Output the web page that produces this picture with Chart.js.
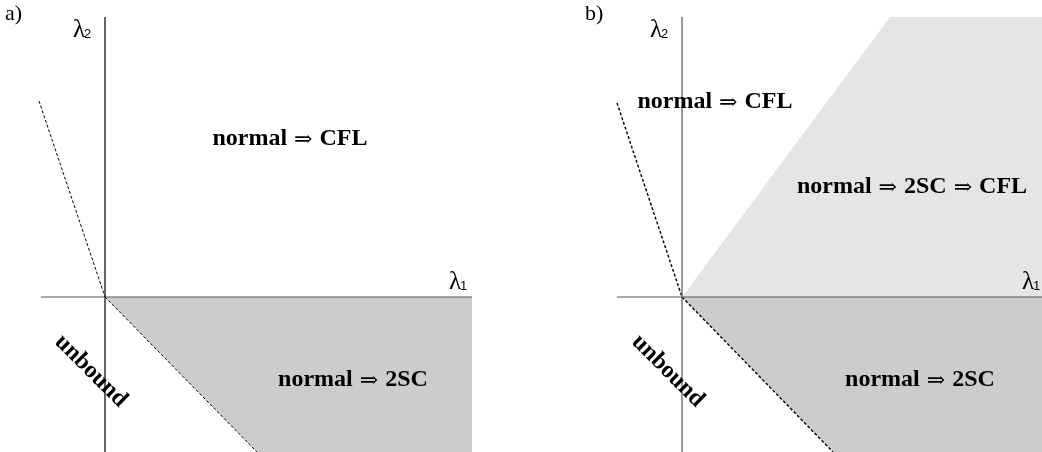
<!DOCTYPE html>
<html>
<head>
<meta charset="utf-8">
<script src="https://cdn.jsdelivr.net/npm/chart.js@4.4.1/dist/chart.umd.min.js"></script>
<style>
  html, body { margin: 0; padding: 0; background: #fff; }
  .wrap { display: flex; width: 1042px; height: 452px; }
  canvas { display: block; }
</style>
</head>
<body>
<div class="wrap">
  <canvas id="panel-a" width="521" height="452"></canvas>
  <canvas id="panel-b" width="521" height="452"></canvas>
</div>
<script>
/* ===== Data (lambda-plane units, origin = axis crossing) ===== */
// panel a
const aAxis1 = [[-0.64, 0], [3.67, 0]];
const aAxis2 = [[0, 2.80], [0, -1.60]];
const aBoundUpper = [[-0.66, 1.96], [0, 0]];
const aBoundLower = [[0, 0], [1.52, -1.55]];
const aRegion2SC = [[0, 0], [3.67, 0], [3.67, -1.60], [1.57, -1.60]];
// panel b
const bAxis1 = [[-0.65, 0], [3.60, 0]];
const bAxis2 = [[0, 2.80], [0, -1.60]];
const bBoundUpper = [[-0.65, 1.94], [0, 0]];
const bBoundLower = [[0, 0], [1.51, -1.55]];
const bRegion2SCCFL = [[0, 0], [2.08, 2.80], [3.60, 2.80], [3.60, 0]];
const bRegion2SC = [[0, 0], [3.60, 0], [3.60, -1.60], [1.56, -1.60]];

// region labels (arrow-separated stages)
const aLabels = [
  { parts: ['normal', 'CFL'], at: [1.85, 1.58] },
  { parts: ['normal', '2SC'], at: [2.48, -0.83] }
];
const bLabels = [
  { parts: ['normal', 'CFL'], at: [0.33, 1.95] },
  { parts: ['normal', '2SC', 'CFL'], at: [2.30, 1.10] },
  { parts: ['normal', '2SC'], at: [2.38, -0.83] }
];

const pts = arr => arr.map(p => ({ x: p[0], y: p[1] }));

function lineSet(arr, dashed, color, width) {
  return {
    data: pts(arr), showLine: true, pointRadius: 0, fill: false,
    borderColor: color, borderWidth: width || 1, borderDash: dashed ? [3, 2] : [],
    order: 0
  };
}
function areaSet(arr, color) {
  return {
    data: pts(arr), showLine: true, pointRadius: 0, borderWidth: 0,
    borderColor: color, backgroundColor: color, fill: 'shape', order: 5
  };
}

const BOLD = "bold 24px 'Liberation Serif', 'DejaVu Serif', serif";
const ARROW = "22px 'DejaVu Serif', serif";
const ARROW_SEP = ' \u21D2 ';

/* ===== Text overlay ===== */
const textPlugin = {
  id: 'diagramText',
  afterDraw(chart) {
    const o = chart.options.plugins.diagramText;
    const ctx = chart.ctx, sx = chart.scales.x, sy = chart.scales.y;
    const X = v => sx.getPixelForValue(v), Y = v => sy.getPixelForValue(v);
    ctx.save();
    ctx.fillStyle = '#000';
    ctx.textBaseline = 'middle';
    ctx.textAlign = 'left';

    o.labels.forEach(l => {
      // measure: bold words, lighter arrows
      const segs = [];
      l.parts.forEach((p, i) => {
        if (i > 0) segs.push({ t: ARROW_SEP, f: ARROW });
        segs.push({ t: p, f: BOLD });
      });
      let total = 0;
      segs.forEach(s => { ctx.font = s.f; s.w = ctx.measureText(s.t).width; total += s.w; });
      let x = X(l.at[0]) - total / 2;
      const y = Y(l.at[1]);
      segs.forEach(s => { ctx.font = s.f; ctx.fillText(s.t, x, s.f === ARROW ? y + 1 : y); x += s.w; });
    });

    // "unbound" along the lower-left diagonal
    ctx.save();
    ctx.translate(X(o.unbound[0]), Y(o.unbound[1]));
    ctx.rotate(Math.PI / 4);
    ctx.textAlign = 'center';
    ctx.font = BOLD;
    ctx.fillText('unbound', 0, 0);
    ctx.restore();

    // axis names
    function lambda(sub, x, y) {
      ctx.textAlign = 'left';
      ctx.font = "25px 'Liberation Serif', serif";
      ctx.fillText('\u03BB', x, y);
      const w = ctx.measureText('\u03BB').width;
      ctx.font = "13px 'Liberation Sans', sans-serif";
      ctx.fillText(sub, x + w - 1, y + 4);
    }
    lambda('2', X(0) - 32, Y(2.67));
    lambda('1', X(o.l1x), Y(0.15));

    // panel tag
    ctx.textAlign = 'left';
    ctx.font = "22px 'Liberation Serif', serif";
    ctx.fillText(o.tag, o.tagX, 14);
    ctx.restore();
  }
};

function makeChart(id, datasets, xmin, opts) {
  return new Chart(document.getElementById(id), {
    type: 'scatter',
    data: { datasets },
    plugins: [textPlugin],
    options: {
      responsive: false,
      animation: false,
      events: [],
      layout: { padding: 0 },
      plugins: {
        legend: { display: false },
        tooltip: { enabled: false },
        diagramText: opts
      },
      scales: {
        x: { type: 'linear', display: false, min: xmin, max: xmin + 5.21 },
        y: { type: 'linear', display: false, min: -1.55, max: 2.97 }
      }
    }
  });
}

makeChart('panel-a', [
  lineSet(aAxis2, false, '#000', 1.2),
  lineSet(aAxis1, false, '#555', 1.2),
  lineSet(aBoundUpper, true, '#000'),
  lineSet(aBoundLower, true, '#000'),
  areaSet(aRegion2SC, '#cccccc')
], -1.05, { labels: aLabels, unbound: [-0.14, -0.74], l1x: 3.44, tag: 'a)', tagX: 5 });

makeChart('panel-b', [
  lineSet(bAxis2, false, '#555', 1.2),
  lineSet(bAxis1, false, '#555', 1.2),
  lineSet(bBoundUpper, true, '#000', 1.4),
  lineSet(bBoundLower, true, '#000', 1.4),
  areaSet(bRegion2SCCFL, '#e5e5e5'),
  areaSet(bRegion2SC, '#cccccc')
], -1.61, { labels: bLabels, unbound: [-0.14, -0.74], l1x: 3.40, tag: 'b)', tagX: 64 });
</script>
</body>
</html>
